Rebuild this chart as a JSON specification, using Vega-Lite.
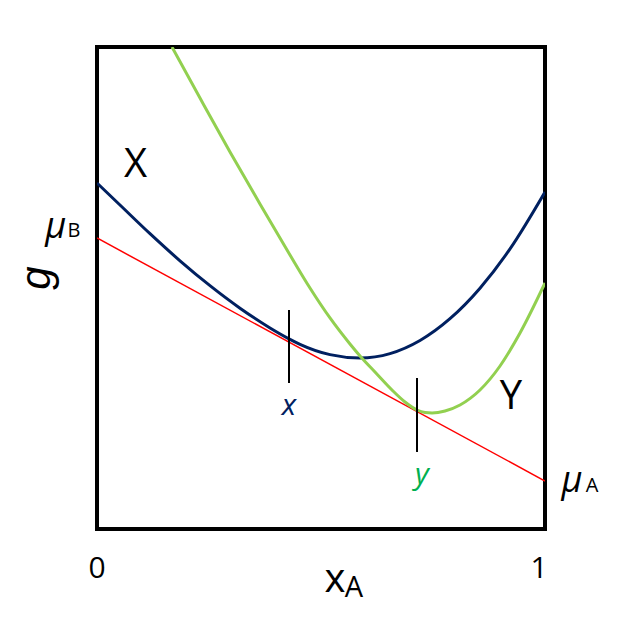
{
  "$schema": "https://vega.github.io/schema/vega-lite/v6.json",
  "autosize": "none",
  "width": 448,
  "height": 482,
  "padding": {"left": 97, "top": 47, "right": 72, "bottom": 96},
  "background": "white",
  "config": {"view": {"stroke": "black", "strokeWidth": 4}, "font": "Open Sans"},
  "datasets": {
    "navy": [
      {"xa": 0, "g": 71.78}, {"xa": 0.0513, "g": 67.22}, {"xa": 0.1183, "g": 61.27},
      {"xa": 0.1853, "g": 55.64}, {"xa": 0.2522, "g": 50.48}, {"xa": 0.3192, "g": 45.81},
      {"xa": 0.3862, "g": 41.72}, {"xa": 0.4286, "g": 39.46}, {"xa": 0.4531, "g": 38.32},
      {"xa": 0.5201, "g": 36.18}, {"xa": 0.5871, "g": 35.48}, {"xa": 0.654, "g": 36.39},
      {"xa": 0.721, "g": 39.11}, {"xa": 0.7879, "g": 43.63}, {"xa": 0.8549, "g": 49.96},
      {"xa": 0.9219, "g": 58.11}, {"xa": 1, "g": 69.92}
    ],
    "green": [
      {"xa": 0.1674, "g": 100}, {"xa": 0.2299, "g": 89.42}, {"xa": 0.2969, "g": 78.22},
      {"xa": 0.3638, "g": 67.43}, {"xa": 0.4308, "g": 56.85}, {"xa": 0.4754, "g": 50.0},
      {"xa": 0.5201, "g": 43.78}, {"xa": 0.5647, "g": 38.38}, {"xa": 0.5871, "g": 35.89},
      {"xa": 0.6205, "g": 32.57}, {"xa": 0.6607, "g": 28.63}, {"xa": 0.6875, "g": 26.35},
      {"xa": 0.7143, "g": 24.69}, {"xa": 0.7321, "g": 24.17}, {"xa": 0.7478, "g": 24.07},
      {"xa": 0.7768, "g": 24.48}, {"xa": 0.8103, "g": 25.73}, {"xa": 0.8549, "g": 28.84},
      {"xa": 0.8996, "g": 33.82}, {"xa": 0.9442, "g": 40.66}, {"xa": 1, "g": 51.04}
    ],
    "red": [{"xa": 0, "g": 60.37}, {"xa": 1, "g": 9.96}],
    "ticks": [
      {"xa": 0.4286, "g1": 45.44, "g2": 30.29},
      {"xa": 0.7143, "g1": 31.33, "g2": 15.98}
    ]
  },
  "layer": [
    {
      "data": {"name": "red"},
      "mark": {"type": "line", "color": "#ff0000", "strokeWidth": 1.5, "clip": true},
      "encoding": {
        "x": {"field": "xa", "type": "quantitative", "scale": {"domain": [0, 1]}, "axis": null},
        "y": {"field": "g", "type": "quantitative", "scale": {"domain": [0, 100]}, "axis": null}
      }
    },
    {
      "data": {"name": "navy"},
      "mark": {"type": "line", "color": "#002060", "strokeWidth": 3, "interpolate": "monotone", "clip": true},
      "encoding": {
        "x": {"field": "xa", "type": "quantitative"},
        "y": {"field": "g", "type": "quantitative"}
      }
    },
    {
      "data": {"name": "green"},
      "mark": {"type": "line", "color": "#92d050", "strokeWidth": 3, "interpolate": "monotone", "clip": true},
      "encoding": {
        "x": {"field": "xa", "type": "quantitative"},
        "y": {"field": "g", "type": "quantitative"}
      }
    },
    {
      "data": {"name": "ticks"},
      "mark": {"type": "rule", "color": "black", "strokeWidth": 2},
      "encoding": {
        "x": {"field": "xa", "type": "quantitative"},
        "y": {"field": "g1", "type": "quantitative"},
        "y2": {"field": "g2"}
      }
    },
    {
      "data": {"values": [{"xa": 0.0859, "g": 75.52, "t": "X"}, {"xa": 0.924, "g": 27.39, "t": "Y"}]},
      "mark": {"type": "text", "fontSize": 40, "color": "black", "baseline": "middle", "align": "center"},
      "encoding": {"x": {"field": "xa", "type": "quantitative"}, "y": {"field": "g", "type": "quantitative"}, "text": {"field": "t"}}
    },
    {
      "data": {"values": [{"xa": 0.4286, "g": 25.5, "t": "x"}]},
      "mark": {"type": "text", "fontSize": 30, "fontStyle": "italic", "color": "#002060", "baseline": "middle", "align": "center"},
      "encoding": {"x": {"field": "xa", "type": "quantitative"}, "y": {"field": "g", "type": "quantitative"}, "text": {"field": "t"}}
    },
    {
      "data": {"values": [{"xa": 0.7254, "g": 11.2, "t": "y"}]},
      "mark": {"type": "text", "fontSize": 30, "fontStyle": "italic", "color": "#00b050", "baseline": "middle", "align": "center"},
      "encoding": {"x": {"field": "xa", "type": "quantitative"}, "y": {"field": "g", "type": "quantitative"}, "text": {"field": "t"}}
    },
    {
      "data": {"values": [{"xa": -0.092, "g": 62.7, "t": "μ"}, {"xa": 1.06, "g": 10.0, "t": "μ"}]},
      "mark": {"type": "text", "fontSize": 36, "fontStyle": "italic", "color": "black", "baseline": "middle", "align": "center"},
      "encoding": {"x": {"field": "xa", "type": "quantitative"}, "y": {"field": "g", "type": "quantitative"}, "text": {"field": "t"}}
    },
    {
      "data": {"values": [{"xa": -0.0513, "g": 61.83, "t": "B"}, {"xa": 1.105, "g": 8.92, "t": "A"}]},
      "mark": {"type": "text", "fontSize": 20, "color": "black", "baseline": "middle", "align": "center"},
      "encoding": {"x": {"field": "xa", "type": "quantitative"}, "y": {"field": "g", "type": "quantitative"}, "text": {"field": "t"}}
    },
    {
      "data": {"values": [{"xa": -0.1339, "g": 52.07, "t": "g"}]},
      "mark": {"type": "text", "font": "Liberation Sans", "fontSize": 42, "fontStyle": "italic", "angle": 270, "color": "black", "baseline": "middle", "align": "center"},
      "encoding": {"x": {"field": "xa", "type": "quantitative"}, "y": {"field": "g", "type": "quantitative"}, "text": {"field": "t"}}
    },
    {
      "data": {"values": [{"xa": 0.531, "g": -10.6, "t": "x"}]},
      "mark": {"type": "text", "fontSize": 40, "color": "black", "baseline": "middle", "align": "center"},
      "encoding": {"x": {"field": "xa", "type": "quantitative"}, "y": {"field": "g", "type": "quantitative"}, "text": {"field": "t"}}
    },
    {
      "data": {"values": [{"xa": 0.5737, "g": -12.24, "t": "A"}]},
      "mark": {"type": "text", "fontSize": 29, "color": "black", "baseline": "middle", "align": "center"},
      "encoding": {"x": {"field": "xa", "type": "quantitative"}, "y": {"field": "g", "type": "quantitative"}, "text": {"field": "t"}}
    },
    {
      "data": {"values": [{"xa": 0, "g": -8.3, "t": "0"}, {"xa": 0.9866, "g": -8.3, "t": "1"}]},
      "mark": {"type": "text", "fontSize": 30, "color": "black", "baseline": "middle", "align": "center"},
      "encoding": {"x": {"field": "xa", "type": "quantitative"}, "y": {"field": "g", "type": "quantitative"}, "text": {"field": "t"}}
    }
  ]
}
